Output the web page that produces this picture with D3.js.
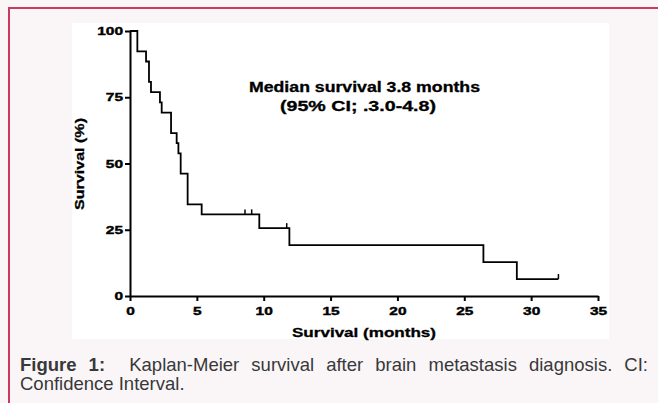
<!DOCTYPE html>
<html>
<head>
<meta charset="utf-8">
<script src="https://cdn.jsdelivr.net/npm/d3@7"></script>
<style>
  html, body { margin: 0; padding: 0; }
  body { width: 658px; height: 403px; background: #faf6f8; position: relative; overflow: hidden; font-family: Arial, "Liberation Sans", sans-serif; }
  #frame { position: absolute; left: 8px; top: 7px; width: 660px; height: 410px; border-left: 2px solid #c93a61; border-top: 2px solid #c93a61; box-sizing: border-box; }
  #panel { position: absolute; left: 72px; top: 23px; width: 537px; height: 316px; background: #ffffff; }
  svg { position: absolute; left: 0; top: 0; }
  .cap { position: absolute; left: 20px; width: 628px; font-size: 18.5px; line-height: 19px; color: #383838; }
  #cap1 { top: 355px; text-align: justify; text-align-last: justify; }
  #cap2 { top: 374px; text-align: left; }
</style>
</head>
<body>
<div id="frame"></div>
<div id="panel"></div>
<svg id="chart" width="658" height="403"></svg>
<div id="cap1" class="cap"><b>Figure 1:</b>&nbsp; Kaplan-Meier survival after brain metastasis diagnosis. CI:</div>
<div id="cap2" class="cap">Confidence Interval.</div>
<script>
// Kaplan-Meier step data: [time (months), survival (%) after the step]
const stepTimes    = [0, 0.55, 1.2, 1.42, 1.57, 2.24, 2.37, 3.07, 3.49, 3.62, 3.79, 4.31, 5.36, 9.67, 11.92, 26.43, 28.93];
const stepSurvival = [100, 92.3, 88.5, 80.8, 76.9, 73.1, 69.2, 61.5, 57.7, 53.8, 46.2, 34.6, 30.8, 25.6, 19.2, 12.8, 6.4];
const lastTime = 32.04;
// censored observations
const censorTimes    = [8.6, 9.1, 11.72, 32.04];
const censorSurvival = [30.8, 30.8, 25.6, 6.4];
// axes
const xTicks = [0, 5, 10, 15, 20, 25, 30, 35];
const yTicks = [0, 25, 50, 75, 100];
const xTitle = "Survival (months)";
const yTitle = "Survival (%)";
const noteLines = ["Median survival 3.8 months", "(95% CI; .3.0-4.8)"];

const svg = d3.select("#chart");
const x = d3.scaleLinear().domain([0, 35]).range([130, 598]);
const y = d3.scaleLinear().domain([0, 100]).range([296, 31]);

const stretch = 8.6; // horizontal stretch of bold digits (px per char)

const gx = svg.append("g").attr("transform", "translate(0,296)")
  .call(d3.axisBottom(x).tickValues(xTicks).tickSize(5).tickSizeOuter(0).tickPadding(6));
const gy = svg.append("g").attr("transform", "translate(130,0)")
  .call(d3.axisLeft(y).tickValues(yTicks).tickSize(5).tickSizeOuter(0).tickPadding(2));

[gx, gy].forEach(g => {
  g.select(".domain").attr("stroke", "#000").attr("stroke-width", 2);
  g.selectAll(".tick line").attr("stroke", "#000").attr("stroke-width", 2);
  g.selectAll(".tick text")
    .attr("fill", "#000")
    .attr("stroke", "#000").attr("stroke-width", 0.4)
    .style("font-family", "Arial, 'Liberation Sans', sans-serif")
    .style("font-size", "11px")
    .style("font-weight", "bold")
    .attr("textLength", function() { return this.textContent.length * stretch; })
    .attr("lengthAdjust", "spacingAndGlyphs");
});

// KM curve
const pts = stepTimes.map((t, i) => [t, stepSurvival[i]]);
pts.push([lastTime, stepSurvival[stepSurvival.length - 1]]);
const line = d3.line().x(d => x(d[0])).y(d => y(d[1])).curve(d3.curveStepAfter);
svg.append("path").attr("d", line(pts)).attr("fill", "none").attr("stroke", "#000").attr("stroke-width", 1.8);

// censor marks
svg.selectAll(".censor").data(censorTimes.map((t, i) => [t, censorSurvival[i]])).enter()
  .append("line")
  .attr("x1", d => x(d[0])).attr("x2", d => x(d[0]))
  .attr("y1", d => y(d[1])).attr("y2", d => y(d[1]) - 5)
  .attr("stroke", "#000").attr("stroke-width", 1.5);

// titles
svg.append("text").attr("x", 292).attr("y", 337)
  .attr("textLength", 144).attr("lengthAdjust", "spacingAndGlyphs")
  .attr("stroke", "#000").attr("stroke-width", 0.3)
  .style("font-size", "13px").style("font-weight", "bold").text(xTitle);
svg.append("text").attr("transform", "translate(84,210) rotate(-90)")
  .attr("textLength", 92).attr("lengthAdjust", "spacingAndGlyphs")
  .attr("stroke", "#000").attr("stroke-width", 0.3)
  .style("font-size", "13px").style("font-weight", "bold").text(yTitle);

// annotation
svg.append("text").attr("x", 249).attr("y", 92)
  .attr("textLength", 231).attr("lengthAdjust", "spacingAndGlyphs")
  .attr("stroke", "#000").attr("stroke-width", 0.3)
  .style("font-size", "14px").style("font-weight", "bold").text(noteLines[0]);
svg.append("text").attr("x", 280).attr("y", 111)
  .attr("textLength", 156).attr("lengthAdjust", "spacingAndGlyphs")
  .attr("stroke", "#000").attr("stroke-width", 0.3)
  .style("font-size", "14px").style("font-weight", "bold").text(noteLines[1]);
</script>
</body>
</html>
